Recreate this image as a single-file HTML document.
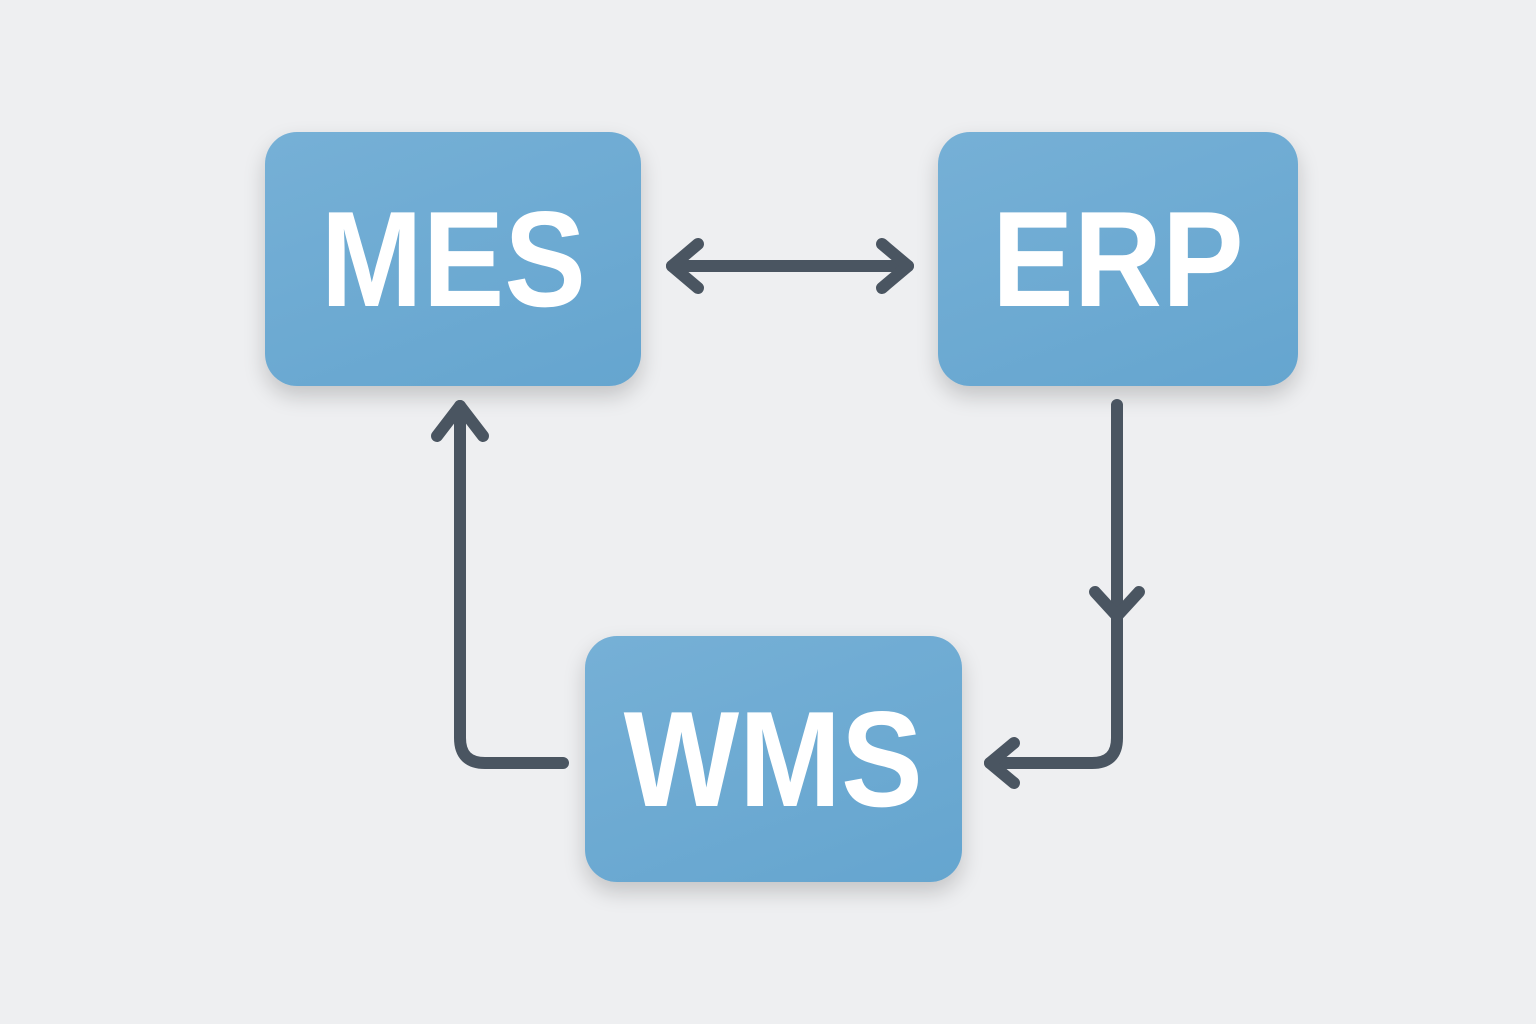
<!DOCTYPE html>
<html><head><meta charset="utf-8"><style>
html,body{margin:0;padding:0;width:1536px;height:1024px;overflow:hidden;background:#eeeff1;}
.b{position:absolute;background:linear-gradient(160deg,#76b0d6,#65a5cf);border-radius:32px;box-shadow:0 10px 22px rgba(0,0,0,0.18);color:#fff;font-family:"Liberation Sans",sans-serif;font-weight:bold;font-size:136px;display:flex;align-items:center;justify-content:center;}
.b span{display:inline-block;transform:scaleX(0.9);}
svg{position:absolute;left:0;top:0;}
</style></head><body>
<div class="b" style="left:265px;top:132px;width:376px;height:254px;"><span>MES</span></div>
<div class="b" style="left:938px;top:132px;width:360px;height:254px;"><span>ERP</span></div>
<div class="b" style="left:585px;top:636px;width:377px;height:246px;"><span>WMS</span></div>
<svg width="1536" height="1024" viewBox="0 0 1536 1024">
<g fill="none" stroke="#4a5561" stroke-width="12" stroke-linecap="round" stroke-linejoin="round">
<path d="M672 266 H908"/>
<path d="M698 244 L672 266 L698 288"/>
<path d="M882 244 L908 266 L882 288"/>
<path d="M1117 405 V738 Q1117 763 1092 763 H990"/>
<path d="M1095 592 L1117 616 L1139 592"/>
<path d="M1014 743 L990 763 L1014 783"/>
<path d="M563 763 H485 Q460 763 460 738 V406"/>
<path d="M437 436 L460 406 L483 436"/>
</g>
</svg>
</body></html>
